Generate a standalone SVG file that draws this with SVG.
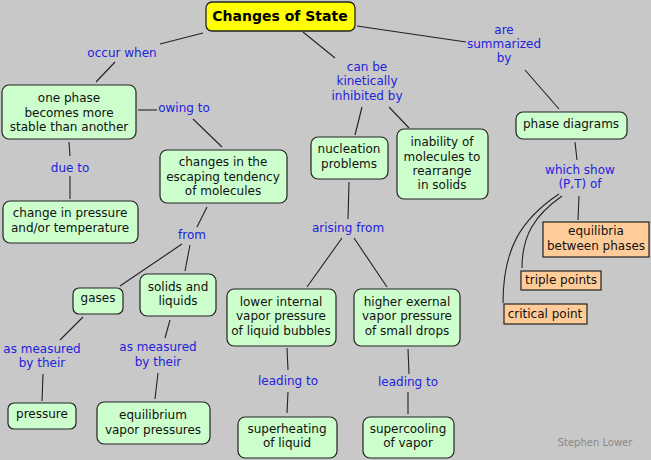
<svg xmlns="http://www.w3.org/2000/svg" width="651" height="460" viewBox="0 0 651 460">
<style>
.bg{fill:#c8c8c8}
.n rect{fill:#ccffcc;stroke:#222;stroke-width:1.2}
.o rect{fill:#ffcc99;stroke:#222;stroke-width:1.2}
.t{font-family:"DejaVu Sans",Verdana,sans-serif;font-size:12px;fill:#111;text-anchor:middle}
.l{font-family:"DejaVu Sans",Verdana,sans-serif;font-size:12px;fill:#2222dd;text-anchor:middle}
#links path,#links line{stroke:#222;stroke-width:1.1;fill:none}
</style>
<rect class="bg" x="0" y="0" width="651" height="460"/>
<g id="links">
<line x1="203" y1="33" x2="160" y2="44"/>
<line x1="115" y1="62" x2="96" y2="82"/>
<line x1="138" y1="110" x2="157" y2="110"/>
<line x1="193" y1="119" x2="222" y2="147"/>
<line x1="69" y1="142" x2="70" y2="156"/>
<line x1="70" y1="176" x2="70" y2="199"/>
<line x1="207" y1="207" x2="197" y2="227"/>
<line x1="182" y1="244" x2="120" y2="286"/>
<line x1="190" y1="245" x2="185" y2="271"/>
<line x1="83" y1="317" x2="60" y2="340"/>
<line x1="43" y1="374" x2="42" y2="401"/>
<line x1="170" y1="320" x2="165" y2="338"/>
<line x1="158" y1="373" x2="155" y2="399"/>
<line x1="303" y1="32" x2="335" y2="58"/>
<line x1="362" y1="107" x2="355" y2="135"/>
<line x1="389" y1="107" x2="409" y2="128"/>
<line x1="349" y1="182" x2="348" y2="219"/>
<line x1="342" y1="238" x2="307" y2="287"/>
<line x1="354" y1="238" x2="387" y2="287"/>
<line x1="287" y1="348" x2="288" y2="370"/>
<line x1="288" y1="392" x2="287" y2="413"/>
<line x1="408" y1="349" x2="409" y2="374"/>
<line x1="408" y1="392" x2="408" y2="414"/>
<line x1="357" y1="26" x2="466" y2="42"/>
<line x1="525" y1="70" x2="559" y2="109"/>
<line x1="575" y1="142" x2="577" y2="160"/>
<line x1="579" y1="196" x2="578" y2="220"/>
<path d="M562,196 C535,215 522,235 522,268"/>
<path d="M559,194 C520,220 503,250 503,303"/>
</g>
<g id="title"><rect x="206" y="2" width="149" height="29" rx="6" fill="#ffff00" stroke="#222" stroke-width="1.3"/><text x="280" y="21" font-family="DejaVu Sans,Verdana,sans-serif" font-size="14" font-weight="bold" text-anchor="middle" fill="#000">Changes of State</text></g>
<g id="n-onephase" class="n"><rect x="2" y="85" width="134" height="54" rx="7"/><text class="t" x="69" y="102">one phase</text><text class="t" x="69" y="117">becomes more</text><text class="t" x="69" y="131">stable than another</text></g>
<g id="n-escaping" class="n"><rect x="160" y="150" width="127" height="53" rx="7"/><text class="t" x="223" y="166">changes in the</text><text class="t" x="223" y="181">escaping tendency</text><text class="t" x="223" y="195">of molecules</text></g>
<g id="n-change" class="n"><rect x="3" y="201" width="135" height="42" rx="7"/><text class="t" x="70" y="217">change in pressure</text><text class="t" x="70" y="232">and/or temperature</text></g>
<g id="n-gases" class="n"><rect x="73" y="288" width="50" height="26" rx="6"/><text class="t" x="98" y="302">gases</text></g>
<g id="n-solids" class="n"><rect x="140" y="274" width="76" height="42" rx="7"/><text class="t" x="178" y="291">solids and</text><text class="t" x="178" y="305">liquids</text></g>
<g id="n-pressure" class="n"><rect x="8" y="403" width="68" height="26" rx="6"/><text class="t" x="42" y="418">pressure</text></g>
<g id="n-eqvp" class="n"><rect x="97" y="402" width="113" height="42" rx="7"/><text class="t" x="153" y="419">equilibrium</text><text class="t" x="153" y="434">vapor pressures</text></g>
<g id="n-nucleation" class="n"><rect x="311" y="137" width="77" height="42" rx="7"/><text class="t" x="349" y="153">nucleation</text><text class="t" x="349" y="168">problems</text></g>
<g id="n-inability" class="n"><rect x="397" y="129" width="91" height="70" rx="7"/><text class="t" x="442" y="146">inability of</text><text class="t" x="442" y="161">molecules to</text><text class="t" x="442" y="175">rearrange</text><text class="t" x="442" y="189">in solids</text></g>
<g id="n-lower" class="n"><rect x="227" y="289" width="109" height="57" rx="7"/><text class="t" x="281" y="306">lower internal</text><text class="t" x="281" y="320">vapor pressure</text><text class="t" x="281" y="335">of liquid bubbles</text></g>
<g id="n-higher" class="n"><rect x="354" y="289" width="106" height="57" rx="7"/><text class="t" x="407" y="306">higher exernal</text><text class="t" x="407" y="320">vapor pressure</text><text class="t" x="407" y="335">of small drops</text></g>
<g id="n-superheating" class="n"><rect x="238" y="417" width="99" height="41" rx="7"/><text class="t" x="287" y="433">superheating</text><text class="t" x="287" y="447">of liquid</text></g>
<g id="n-supercooling" class="n"><rect x="363" y="417" width="91" height="41" rx="7"/><text class="t" x="408" y="433">supercooling</text><text class="t" x="408" y="447">of vapor</text></g>
<g id="n-phasediagrams" class="n"><rect x="516" y="112" width="111" height="27" rx="7"/><text class="t" x="571" y="128">phase diagrams</text></g>
<g id="n-equilibria" class="o"><rect x="543" y="222" width="106" height="35"/><text class="t" x="596" y="235">equilibria</text><text class="t" x="596" y="250">between phases</text></g>
<g id="n-triple" class="o"><rect x="521" y="271" width="80" height="19"/><text class="t" x="561" y="284">triple points</text></g>
<g id="n-critical" class="o"><rect x="504" y="304" width="83" height="20"/><text class="t" x="545" y="318">critical point</text></g>
<g id="labels">
<text class="l" x="122" y="57">occur when</text>
<text class="l" x="184" y="112">owing to</text>
<text class="l" x="70" y="172">due to</text>
<text class="l" x="192" y="239">from</text>
<text class="l" x="367" y="71">can be</text><text class="l" x="367" y="85">kinetically</text><text class="l" x="367" y="100">inhibited by</text>
<text class="l" x="504" y="34">are</text><text class="l" x="504" y="48">summarized</text><text class="l" x="504" y="62">by</text>
<text class="l" x="580" y="174">which show</text><text class="l" x="580" y="188">(P,T) of</text>
<text class="l" x="348" y="232">arising from</text>
<text class="l" x="42" y="353">as measured</text><text class="l" x="42" y="367">by their</text>
<text class="l" x="158" y="351">as measured</text><text class="l" x="158" y="366">by their</text>
<text class="l" x="288" y="385">leading to</text>
<text class="l" x="408" y="386">leading to</text>
</g>
<text x="595" y="446" font-family="DejaVu Sans,Verdana,sans-serif" font-size="10" fill="#888" text-anchor="middle">Stephen Lower</text>
</svg>
